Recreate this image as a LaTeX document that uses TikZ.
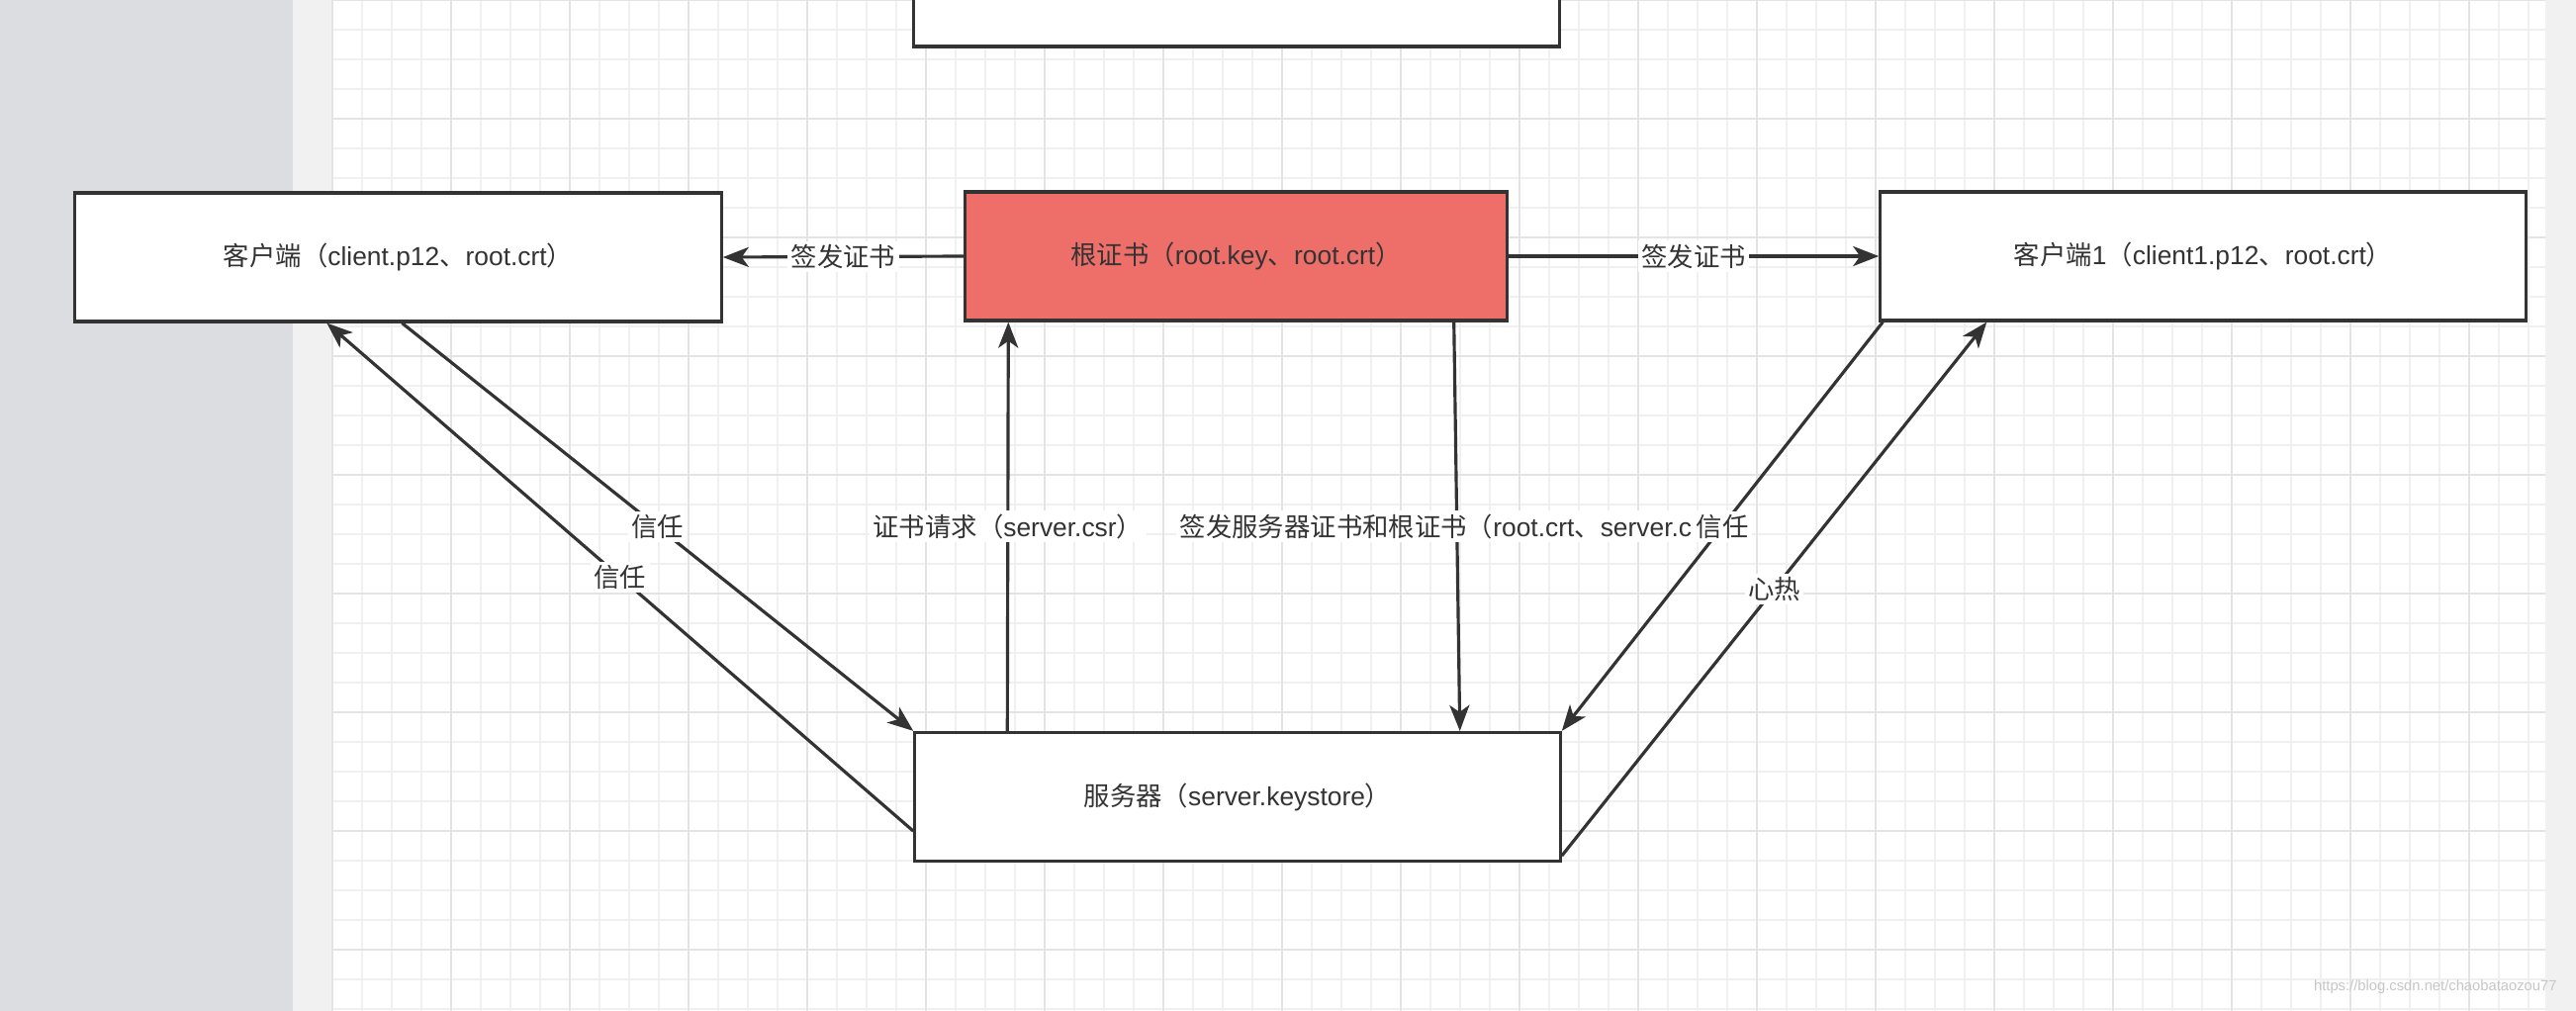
\documentclass[tikz,border=0pt]{standalone}
\usepackage{fontspec}
\setmainfont{Liberation Sans}
\newfontfamily\cjk{Noto Sans CJK SC}
\usepackage{xcolor}
\usetikzlibrary{arrows.meta}
\definecolor{inkgray}{HTML}{333333}
\definecolor{rootred}{HTML}{EE6F6A}
\definecolor{sidegray}{HTML}{DCDDE1}
\definecolor{stripgray}{HTML}{F1F1F1}
\definecolor{gridminor}{HTML}{F0F0F0}
\definecolor{gridmajor}{HTML}{E4E4E4}
\newcommand{\zh}[1]{{\cjk #1}}
\newcommand{\lblfont}{\fontsize{7.5}{9}\selectfont}

\begin{document}
\begin{tikzpicture}[x=0.01cm, y=-0.01cm,
  box/.style={draw=inkgray, line width=0.9pt, fill=white, minimum height=1.3cm,
    inner sep=0pt, text=inkgray, font=\lblfont},
  conn/.style={draw=inkgray, line width=0.9pt,
    -{Stealth[length=2.6mm, width=2mm, inset=0.7mm]}},
  tag/.style={fill=white, inner sep=1pt, text=inkgray, font=\lblfont}]
  \useasboundingbox (0,0) rectangle (2604,1022);
  \clip (0,0) rectangle (2604,1022);
  % canvas and grid
  \fill[white] (0,0) rectangle (2604,1022);
  \fill[sidegray] (0,0) rectangle (296,1022);
  \fill[stripgray] (296,0) rectangle (336,1022);
  \fill[stripgray] (2573,0) rectangle (2604,1022);
  \foreach \gx in {336,366,...,2573} \draw[gridminor, line width=0.4pt] (\gx,0) -- (\gx,1022);
  \foreach \gy in {0,30,...,1022} \draw[gridminor, line width=0.4pt] (336,\gy) -- (2573,\gy);
  \foreach \gx in {336,456,...,2573} \draw[gridmajor, line width=0.6pt] (\gx,0) -- (\gx,1022);
  \foreach \gy in {0,120,...,1022} \draw[gridmajor, line width=0.6pt] (336,\gy) -- (2573,\gy);

  % boxes
  \node[box, minimum width=6.52cm] (topbox) at (1250,-18) {};
  \node[box, minimum width=6.53cm] (client) at (402.5,260)
    {\zh{客户端（}client.p12\zh{、}root.crt\zh{）}};
  \node[box, minimum width=5.47cm, fill=rootred] (root) at (1249.5,259)
    {\zh{根证书（}root.key\zh{、}root.crt\zh{）}};
  \node[box, minimum width=6.52cm] (client1) at (2227,259)
    {\zh{客户端}1\zh{（}client1.p12\zh{、}root.crt\zh{）}};
  \node[box, minimum width=6.52cm] (server) at (1251,805.5)
    {\zh{服务器（}server.keystore\zh{）}};

  % connectors
  \draw[conn] (root.west) -- node[tag] {\zh{签发证书}} (client.east);
  \draw[conn] (root.east) -- node[tag] {\zh{签发证书}} (client1.west);
  \draw[conn] ([xshift=0.95cm]server.north west) -- node[tag]
    {\zh{证书请求（}server.csr\zh{）}} ([xshift=0.45cm]root.south west);
  \draw[conn] ([xshift=-0.55cm]root.south east) -- node[tag]
    {\zh{签发服务器证书和根证书（}root.crt\zh{、}server.crt\zh{）}} ([xshift=-1.03cm]server.north east);
  \draw[conn] ([xshift=3.32cm]client.south west) -- node[tag] {\zh{信任}} (server.north west);
  \draw[conn] ([yshift=0.32cm]server.south west) -- node[tag] {\zh{信任}} ([xshift=2.56cm]client.south west);
  \draw[conn] ([yshift=0.07cm]server.south east) -- node[tag] {\zh{心热}} ([xshift=1.09cm]client1.south west);
  \draw[conn] ([xshift=0.04cm]client1.south west) -- node[tag] {\zh{信任}} (server.north east);

  \node[anchor=south east, text=gray!45, font=\fontsize{4.2}{5}\selectfont] (mark) at (2597,1017)
    {https://blog.csdn.net/chaobataozou77};
\end{tikzpicture}
\end{document}
